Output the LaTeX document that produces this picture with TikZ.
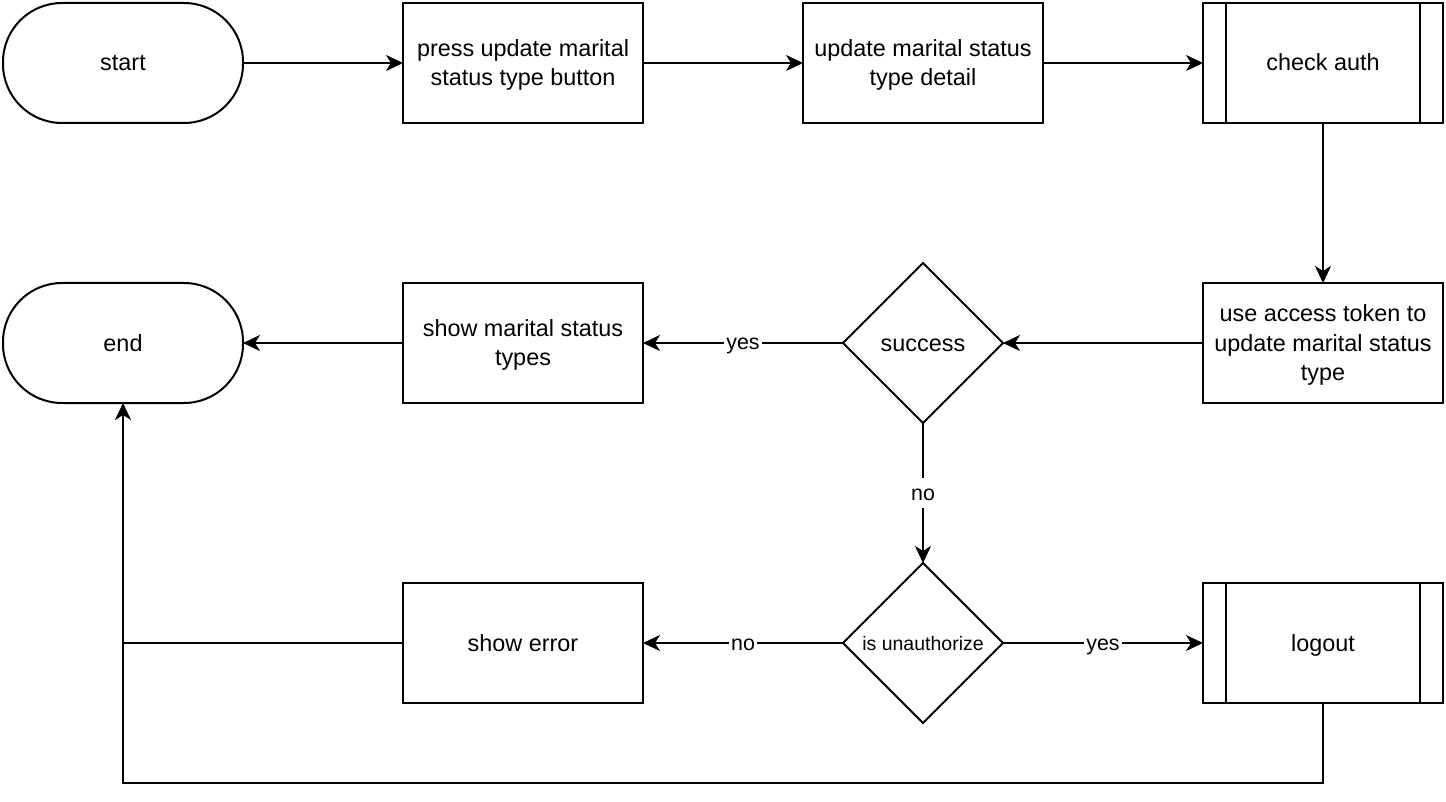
\documentclass[tikz,border=0pt]{standalone}
\usepackage{fontspec}
\setmainfont{Liberation Sans}
\usetikzlibrary{shapes.geometric,arrows.meta}
\newcommand\mystrut{\rule[-3.3pt]{0pt}{14.6pt}}
\newcommand\lblstrut{\rule[-3pt]{0pt}{13pt}}
\newcommand\decstrut{\rule[-2.2pt]{0pt}{12pt}}
\begin{document}
\begin{tikzpicture}[x=0.5pt,y=-0.5pt,
  every node/.style={inner sep=0pt,outer sep=0pt},
  base/.style={draw,line width=1pt,font=\fontsize{11.7}{14.6}\selectfont,align=center},
  box/.style={base,rectangle,minimum width=120pt,minimum height=60pt},
  term/.style={box,rounded corners=29.5pt},
  dec/.style={base,diamond,minimum width=80pt,minimum height=80pt,aspect=1},
  proc/.style={box},
  lbl/.style={fill=white,inner sep=1pt,font=\fontsize{10.7}{13}\selectfont},
  arr/.style={line width=1pt,-{Stealth[length=8.5pt,width=8pt,inset=2.5pt]}},
  ln/.style={line width=1pt}]
\useasboundingbox (0,0) rectangle (1446,802);
\node[term] (start) at (123,63) {\mystrut start};
\node[box] (press) at (523,63) {\mystrut press update marital\\\mystrut status type button};
\node[box] (detail) at (923,63) {\mystrut update marital status\\\mystrut type detail};
\node[proc] (auth) at (1323,63) {\mystrut check auth};
\node[box] (token) at (1323,343) {\mystrut use access token to\\\mystrut update marital status\\\mystrut type};
\node[dec] (succ) at (923,343) {\mystrut success};
\node[box] (show) at (523,343) {\mystrut show marital status\\\mystrut types};
\node[term] (end) at (123,343) {\mystrut end};
\node[dec,font=\fontsize{9.75}{12}\selectfont] (unauth) at (923,643) {\decstrut is unauthorize};
\node[box] (err) at (523,643) {\mystrut show error};
\node[proc] (logout) at (1323,643) {\mystrut logout};
\foreach \n in {auth,logout}{
  \draw[ln] ([xshift=11.5pt]\n.north west) -- ([xshift=11.5pt]\n.south west);
  \draw[ln] ([xshift=-11.5pt]\n.north east) -- ([xshift=-11.5pt]\n.south east);
}
\draw[arr] (start) -- (press);
\draw[arr] (press) -- (detail);
\draw[arr] (detail) -- (auth);
\draw[arr] (auth) -- (token);
\draw[arr] (token) -- (succ);
\draw[arr] (succ) -- node[lbl]{\lblstrut yes} (show);
\draw[arr] (show) -- (end);
\draw[arr] (succ) -- node[lbl]{\lblstrut no} (unauth);
\draw[arr] (unauth) -- node[lbl]{\lblstrut no} (err);
\draw[arr] (unauth) -- node[lbl]{\lblstrut yes} (logout);
\draw[ln] (err.west) -- (end.south |- err.west);
\draw[arr] (logout.south) -- ++(0,80) -| (end.south);
\end{tikzpicture}
\end{document}
